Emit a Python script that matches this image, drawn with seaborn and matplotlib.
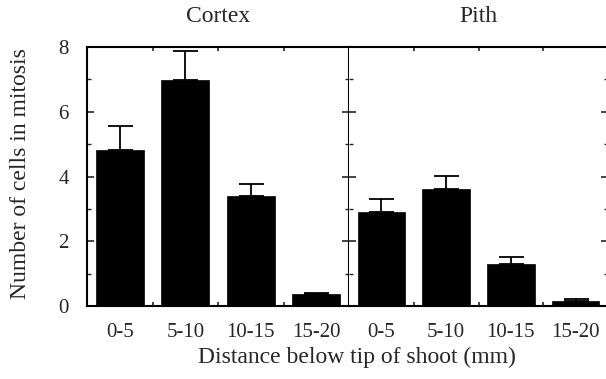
import matplotlib
matplotlib.use("Agg")
import matplotlib.pyplot as plt
from matplotlib.ticker import FixedLocator, MultipleLocator
import seaborn as sns
import pandas as pd

categories = ["0-5", "5-10", "10-15", "15-20"]
cortex_mean = [4.82, 6.98, 3.40, 0.37]
cortex_err = [0.75, 0.89, 0.37, 0.04]
pith_mean = [2.89, 3.62, 1.31, 0.16]
pith_err = [0.42, 0.41, 0.21, 0.07]
panel_titles = ["Cortex", "Pith"]
y_ticks = [0, 2, 4, 6, 8]

sns.set_theme(style="ticks")
plt.rcParams['font.family'] = ['Liberation Serif', 'DejaVu Serif']

fig = plt.figure(figsize=(6.06, 3.79), dpi=100)
W, H = 606, 379
ax1 = fig.add_axes([87 / W, 73 / H, 262 / W, 259 / H])
ax2 = fig.add_axes([349 / W, 73 / H, 259 / W, 259 / H])

for i, (ax, means, errs, title) in enumerate(zip(
        [ax1, ax2], [cortex_mean, pith_mean], [cortex_err, pith_err], panel_titles)):
    df = pd.DataFrame({"cat": categories, "val": means})
    sns.barplot(data=df, x="cat", y="val", ax=ax, color="black",
                width=0.735, saturation=1, edgecolor="black", linewidth=0.5)
    ax.errorbar(range(len(categories)), means,
                yerr=[[0] * len(errs), errs], fmt="none", ecolor="black",
                elinewidth=1.3, capsize=9, capthick=1.3, zorder=1)
    ax.set_xlim(-0.5, 3.5)
    ax.set_ylim(0, 8)
    ax.set_xlabel("")
    ax.set_ylabel("")
    ax.set_title(title, fontsize=17, pad=18)
    for s in ax.spines.values():
        s.set_linewidth(1.5)
        s.set_color("black")
        s.set_visible(True)
    ax.xaxis.set_minor_locator(FixedLocator([0.5, 1.5, 2.5]))
    ax.tick_params(axis="x", which="major", length=0, pad=12, labelsize=15)
    ax.tick_params(axis="x", which="minor", direction="in", length=3, width=1.2,
                   top=True, bottom=True)
    ax.set_yticks(y_ticks)
    ax.yaxis.set_minor_locator(MultipleLocator(1))
    ax.tick_params(axis="y", which="major", direction="in", length=5, width=1.2,
                   left=True, right=True, labelsize=15, pad=13)
    ax.tick_params(axis="y", which="minor", direction="in", length=3, width=1.0,
                   left=True, right=True)
    ax.set_facecolor("white")

ax2.spines["left"].set_visible(False)
ax2.tick_params(axis="y", labelleft=False)
fig.text(21 / W, 1 - 174 / H, "Number of cells in mitosis", rotation=90,
         ha="center", va="center", fontsize=17)
fig.text(357 / W, 1 - 357 / H, "Distance below tip of shoot (mm)",
         ha="center", va="center", fontsize=17)

fig.savefig("out.png", dpi=100)
